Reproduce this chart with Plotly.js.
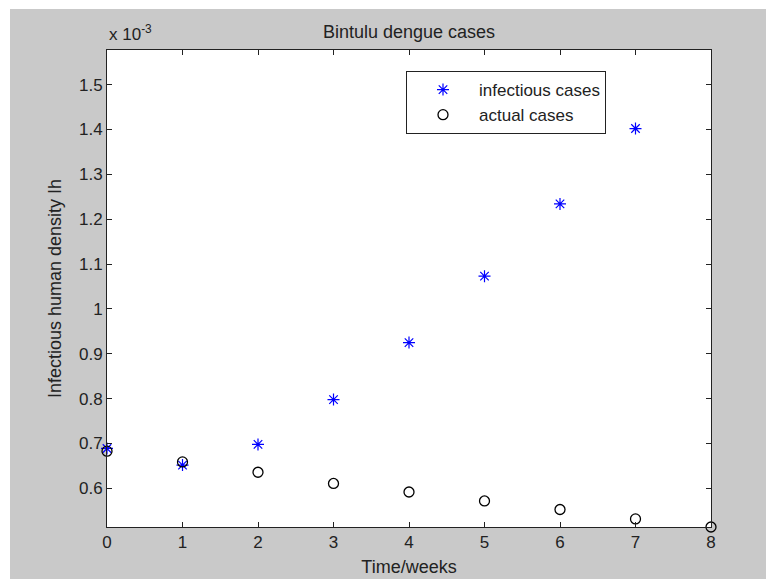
<!DOCTYPE html>
<html>
<head>
<meta charset="utf-8">
<script src="https://cdn.plot.ly/plotly-3.0.1.min.js"></script>
<style>
html,body{margin:0;padding:0;background:#ffffff;}
#chart{width:766px;height:579px;}
</style>
</head>
<body>
<div id="chart"></div>
<script>
// Values in units of 1e-3 (axis exponent shown as "x 10^-3")
const weeksInfectious = [0, 1, 2, 3, 4, 5, 6, 7];
const infectiousCases = [0.689, 0.652, 0.698, 0.798, 0.925, 1.073, 1.234, 1.402];
const weeksActual = [0, 1, 2, 3, 4, 5, 6, 7, 8];
const actualCases = [0.683, 0.659, 0.636, 0.611, 0.592, 0.572, 0.553, 0.532, 0.514];
const xTicks = [0, 1, 2, 3, 4, 5, 6, 7, 8];
const yTicks = [0.6, 0.7, 0.8, 0.9, 1.0, 1.1, 1.2, 1.3, 1.4, 1.5];
const yTickLabels = ['0.6', '0.7', '0.8', '0.9', '1', '1.1', '1.2', '1.3', '1.4', '1.5'];

const FONT = 'Liberation Sans, Arial, sans-serif';
const TXT = '#222222';

const traces = [
  {
    x: weeksInfectious, y: infectiousCases, name: 'infectious cases',
    type: 'scatter', mode: 'markers', cliponaxis: false,
    marker: {symbol: 'asterisk-open', size: 10, color: '#0000ff', line: {color: '#0000ff', width: 1.2}}
  },
  {
    x: weeksActual, y: actualCases, name: 'actual cases',
    type: 'scatter', mode: 'markers', cliponaxis: false,
    marker: {symbol: 'circle-open', size: 10, color: '#000000', line: {color: '#222222', width: 1.3}}
  }
];

const W = 604, H = 477, L = 107, T = 50;
const layout = {
  width: 766, height: 579,
  margin: {l: L, r: 55, t: T, b: 52, pad: 0},
  paper_bgcolor: '#c9c9c9',
  plot_bgcolor: '#ffffff',
  font: {family: FONT, size: 17, color: TXT},
  title: {text: 'Bintulu dengue cases', font: {family: FONT, size: 18, color: TXT},
          x: 0.5, xref: 'paper', xanchor: 'center', y: 1 - 32 / 579, yanchor: 'middle'},
  xaxis: {
    range: [0, 8], tickvals: xTicks, ticktext: xTicks.map(String),
    ticks: 'inside', ticklen: 5, tickwidth: 1, tickcolor: '#222222',
    showline: true, linecolor: '#222222', linewidth: 1, mirror: 'ticks',
    showgrid: false, zeroline: false,
    tickfont: {family: FONT, size: 17, color: TXT},
    title: {text: 'Time/weeks', font: {family: FONT, size: 18, color: TXT}, standoff: 8}
  },
  yaxis: {
    range: [0.514, 1.577], tickvals: yTicks, ticktext: yTickLabels,
    ticks: 'inside', ticklen: 5, tickwidth: 1, tickcolor: '#222222',
    showline: true, linecolor: '#222222', linewidth: 1, mirror: 'ticks',
    showgrid: false, zeroline: false,
    tickfont: {family: FONT, size: 17, color: TXT},
    title: {text: 'Infectious human density Ih', font: {family: FONT, size: 18, color: TXT}, standoff: 12}
  },
  legend: {
    x: (406 - L) / W, xanchor: 'left', y: 1 - (71 - T) / H, yanchor: 'top',
    bgcolor: '#ffffff', bordercolor: '#222222', borderwidth: 1,
    font: {family: FONT, size: 17, color: TXT},
    itemwidth: 62, tracegroupgap: 0
  },
  shapes: [
    {type: 'rect', xref: 'paper', yref: 'paper', x0: -L / W, x1: -(L - 10) / W, y0: -0.2, y1: 1.2,
     fillcolor: '#ffffff', line: {width: 0}, layer: 'below'},
    {type: 'rect', xref: 'paper', yref: 'paper', x0: -0.3, x1: 1.2, y0: 1 + (T - 9) / H, y1: 1 + T / H + 0.01,
     fillcolor: '#ffffff', line: {width: 0}, layer: 'below'}
  ],
  annotations: [
    {text: 'x 10<sup>-3</sup>', xref: 'paper', yref: 'paper', x: 0, xanchor: 'left',
     y: 1 + (T - 33) / H, yanchor: 'middle', showarrow: false,
     font: {family: FONT, size: 17, color: TXT}}
  ],
  showlegend: true
};

Plotly.newPlot('chart', traces, layout, {displayModeBar: false, staticPlot: true});
</script>
</body>
</html>
